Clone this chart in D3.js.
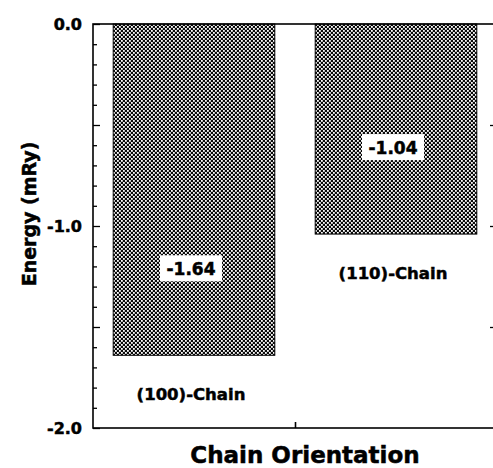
<!DOCTYPE html>
<html>
<head>
<meta charset="utf-8">
<script src="https://cdn.jsdelivr.net/npm/d3@7"></script>
<style>
  body { margin: 0; background: #fff; }
  text { font-family: "DejaVu Sans", sans-serif; font-weight: bold; fill: #000; stroke: #000; stroke-width: 0.5px; }
</style>
</head>
<body>
<svg id="chart"></svg>
<script>
// data
const categories = ["(100)-Chain", "(110)-Chain"];
const energies = [-1.64, -1.04];
const valueLabels = ["-1.64", "-1.04"];
const yTickLabels = [0.0, -1.0, -2.0];

const config = {
    containerWidth: 493,
    containerHeight: 468,
    margin: {top: 24, right: -4, bottom: 40, left: 93}
};

const width = config.containerWidth - config.margin.left - config.margin.right;
const height = config.containerHeight - config.margin.top - config.margin.bottom;

const svg = d3.select('#chart')
    .attr('width', config.containerWidth)
    .attr('height', config.containerHeight);

// dither pattern for the bars
const defs = svg.append('defs');
const pat = defs.append('pattern')
    .attr('id', 'dither')
    .attr('patternUnits', 'userSpaceOnUse')
    .attr('width', 4)
    .attr('height', 4);
pat.append('rect').attr('width', 4).attr('height', 4).attr('fill', '#0a0a0a');
pat.append('rect').attr('x', 0).attr('y', 0).attr('width', 1.8).attr('height', 1.8).attr('fill', '#fff');
pat.append('rect').attr('x', 2).attr('y', 2).attr('width', 1.8).attr('height', 1.8).attr('fill', '#fff');

const chart = svg.append('g')
    .attr('transform', `translate(${config.margin.left},${config.margin.top})`);

// scales
const xScale = d3.scaleBand()
    .domain(categories)
    .range([0, width])
    .paddingInner(0.2)
    .paddingOuter(0.1);

const yScale = d3.scaleLinear()
    .domain([0, -2])
    .range([0, height]);

// bars
chart.selectAll('.bar')
    .data(energies)
    .enter()
    .append('rect')
    .attr('class', 'bar')
    .attr('x', (d, i) => xScale(categories[i]))
    .attr('y', yScale(0))
    .attr('width', xScale.bandwidth())
    .attr('height', d => yScale(d) - yScale(0))
    .attr('fill', 'url(#dither)')
    .attr('stroke', '#000')
    .attr('stroke-width', 1);

// frame
chart.append('rect')
    .attr('x', 0).attr('y', 0)
    .attr('width', width).attr('height', height)
    .attr('fill', 'none')
    .attr('stroke', '#000')
    .attr('stroke-width', 1.6);

// left axis: minor ticks every 0.1, major every 0.5
const leftAxis = d3.axisRight(yScale)
    .tickValues(d3.range(0, 21).map(i => -i / 10))
    .tickSize(4)
    .tickFormat('');
const leftG = chart.append('g').call(leftAxis);
leftG.select('.domain').remove();
leftG.selectAll('.tick line')
    .attr('stroke-width', 1.3)
    .attr('x2', d => Math.abs(Math.round(d * 10)) % 5 === 0 ? 7 : 4);

// left tick labels
chart.selectAll('.ylab')
    .data(yTickLabels)
    .enter()
    .append('text')
    .attr('class', 'ylab')
    .attr('x', -11)
    .attr('y', d => yScale(d) + 6)
    .attr('text-anchor', 'end')
    .style('font-size', '16px')
    .text(d => d3.format('.1f')(d).replace('−', '-'));

// right axis ticks (majors only)
const rightAxis = d3.axisLeft(yScale)
    .tickValues([-0.5, -1.0, -1.5])
    .tickSize(7)
    .tickFormat('');
const rightG = chart.append('g')
    .attr('transform', `translate(${width},0)`)
    .call(rightAxis);
rightG.select('.domain').remove();
rightG.selectAll('.tick line').attr('stroke-width', 1.3);

// bottom single tick between categories
const xLine = d3.scaleLinear().domain([0, 1]).range([0, width]);
const bottomAxis = d3.axisTop(xLine).tickValues([0.5]).tickSize(6).tickFormat('');
const bottomG = chart.append('g')
    .attr('transform', `translate(0,${height})`)
    .call(bottomAxis);
bottomG.select('.domain').remove();
bottomG.selectAll('.tick line').attr('stroke-width', 1.6);

// value labels with white boxes
const valG = chart.selectAll('.val')
    .data(energies)
    .enter()
    .append('g')
    .attr('class', 'val')
    .attr('transform', (d, i) => `translate(${xScale(categories[i]) + xScale.bandwidth() / 2 - 3},${yScale(d) - 87})`);
valG.append('rect')
    .attr('x', -31).attr('y', -13)
    .attr('width', 62).attr('height', 26)
    .attr('fill', '#fff');
valG.append('text')
    .attr('text-anchor', 'middle')
    .attr('y', 6.5)
    .style('font-size', '17px')
    .text((d, i) => valueLabels[i]);

// category labels below each bar
chart.selectAll('.cat')
    .data(energies)
    .enter()
    .append('text')
    .attr('class', 'cat')
    .attr('x', (d, i) => xScale(categories[i]) + xScale.bandwidth() / 2 - 3)
    .attr('y', d => yScale(d) + 45)
    .attr('text-anchor', 'middle')
    .style('font-size', '16.5px')
    .text((d, i) => categories[i]);

// axis titles
svg.append('text')
    .attr('x', 305)
    .attr('y', 463)
    .attr('text-anchor', 'middle')
    .style('font-size', '23px')
    .text('Chain Orientation');

svg.append('text')
    .attr('transform', `translate(36,214) rotate(-90)`)
    .attr('text-anchor', 'middle')
    .style('font-size', '19px')
    .text('Energy (mRy)');
</script>
</body>
</html>
